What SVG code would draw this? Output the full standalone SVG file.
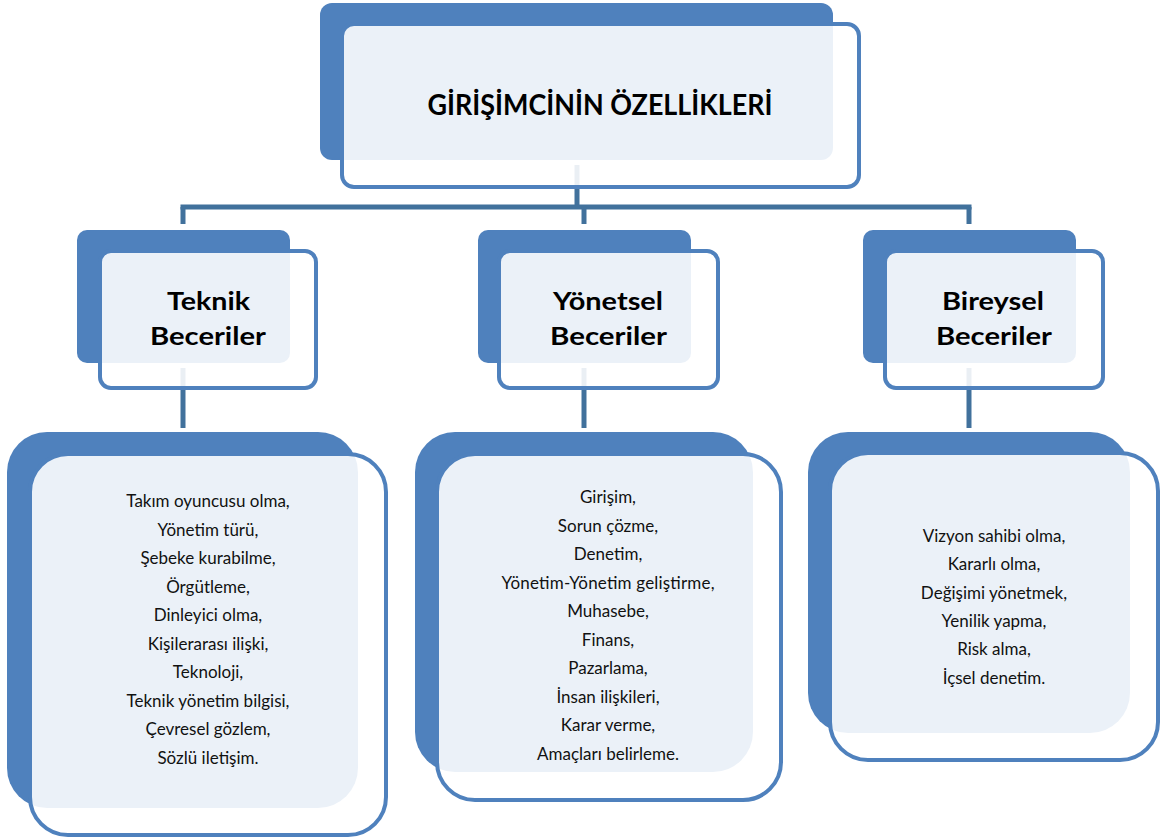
<svg xmlns="http://www.w3.org/2000/svg" width="1165" height="839" viewBox="0 0 1165 839">
<style>
.back{fill:#4F81BD}
.front{fill:#FFFFFF;fill-opacity:0.89;stroke:#4F81BD;stroke-width:4}
.conn{stroke:#41719C;stroke-width:5;fill:none}
.title{font-family:Lato,"Liberation Sans",sans-serif;font-weight:bold;font-size:28px;fill:#000;text-anchor:middle}
.head{font-family:Lato,"Liberation Sans",sans-serif;font-weight:bold;font-size:25px;fill:#000;text-anchor:middle}
.item{font-family:Lato,"Liberation Sans",sans-serif;font-size:17px;fill:#111;text-anchor:middle}
</style>
<rect width="1165" height="839" fill="#FFFFFF"/>
<g id="connectors">
<line class="conn" x1="577" y1="165" x2="577" y2="207"/>
<line class="conn" x1="180.5" y1="207" x2="971.5" y2="207"/>
<line class="conn" x1="183" y1="207" x2="183" y2="224"/>
<line class="conn" x1="584" y1="207" x2="584" y2="224"/>
<line class="conn" x1="969" y1="207" x2="969" y2="224"/>
<line class="conn" x1="183" y1="368" x2="183" y2="428"/>
<line class="conn" x1="584" y1="368" x2="584" y2="428"/>
<line class="conn" x1="969" y1="368" x2="969" y2="428"/>
</g>
<g id="node-title">
<rect class="back" x="320" y="3" width="513" height="157" rx="12"/>
<rect class="front" x="342" y="24" width="517" height="163" rx="12"/>
<text class="title" x="600" y="115" textLength="345" lengthAdjust="spacingAndGlyphs">GİRİŞİMCİNİN ÖZELLİKLERİ</text>
</g>
<g id="node-teknik">
<rect class="back" x="77" y="230" width="213" height="133" rx="10"/>
<rect class="front" x="100" y="251" width="216" height="137" rx="11"/>
<text class="head" x="208.5" y="310" textLength="83" lengthAdjust="spacingAndGlyphs">Teknik</text>
<text class="head" x="208" y="345" textLength="116" lengthAdjust="spacingAndGlyphs">Beceriler</text>
</g>
<g id="node-yonetsel">
<rect class="back" x="478" y="230" width="213" height="133" rx="10"/>
<rect class="front" x="499" y="251" width="219" height="137" rx="11"/>
<text class="head" x="608" y="310" textLength="110" lengthAdjust="spacingAndGlyphs">Yönetsel</text>
<text class="head" x="608.5" y="345" textLength="117" lengthAdjust="spacingAndGlyphs">Beceriler</text>
</g>
<g id="node-bireysel">
<rect class="back" x="863" y="230" width="213" height="133" rx="10"/>
<rect class="front" x="885" y="251" width="218" height="137" rx="11"/>
<text class="head" x="993" y="310" textLength="102" lengthAdjust="spacingAndGlyphs">Bireysel</text>
<text class="head" x="994" y="345" textLength="116" lengthAdjust="spacingAndGlyphs">Beceriler</text>
</g>
<g id="node-teknik-list">
<rect class="back" x="7" y="432" width="351" height="376" rx="40"/>
<rect class="front" x="30" y="454" width="356" height="381" rx="38"/>
<text class="item" x="208" y="507">Takım oyuncusu olma,</text>
<text class="item" x="208" y="535.5">Yönetim türü,</text>
<text class="item" x="208" y="564">Şebeke kurabilme,</text>
<text class="item" x="208" y="592.5">Örgütleme,</text>
<text class="item" x="208" y="621">Dinleyici olma,</text>
<text class="item" x="208" y="649.5">Kişilerarası ilişki,</text>
<text class="item" x="208" y="678">Teknoloji,</text>
<text class="item" x="208" y="706.5">Teknik yönetim bilgisi,</text>
<text class="item" x="208" y="735">Çevresel gözlem,</text>
<text class="item" x="208" y="763.5">Sözlü iletişim.</text>
</g>
<g id="node-yonetsel-list">
<rect class="back" x="415" y="432" width="338" height="340" rx="40"/>
<rect class="front" x="437" y="454" width="344" height="346" rx="38"/>
<text class="item" x="608" y="503">Girişim,</text>
<text class="item" x="608" y="531.5">Sorun çözme,</text>
<text class="item" x="608" y="560">Denetim,</text>
<text class="item" x="608" y="588.5" textLength="213" lengthAdjust="spacing">Yönetim-Yönetim geliştirme,</text>
<text class="item" x="608" y="617">Muhasebe,</text>
<text class="item" x="608" y="645.5">Finans,</text>
<text class="item" x="608" y="674">Pazarlama,</text>
<text class="item" x="608" y="702.5">İnsan ilişkileri,</text>
<text class="item" x="608" y="731">Karar verme,</text>
<text class="item" x="608" y="759.5">Amaçları belirleme.</text>
</g>
<g id="node-bireysel-list">
<rect class="back" x="808" y="432" width="322" height="301" rx="40"/>
<rect class="front" x="830" y="453" width="328" height="307" rx="38"/>
<text class="item" x="994" y="542">Vizyon sahibi olma,</text>
<text class="item" x="994" y="570.3">Kararlı olma,</text>
<text class="item" x="994" y="598.6">Değişimi yönetmek,</text>
<text class="item" x="994" y="626.9">Yenilik yapma,</text>
<text class="item" x="994" y="655.2">Risk alma,</text>
<text class="item" x="994" y="683.5">İçsel denetim.</text>
</g>
</svg>
